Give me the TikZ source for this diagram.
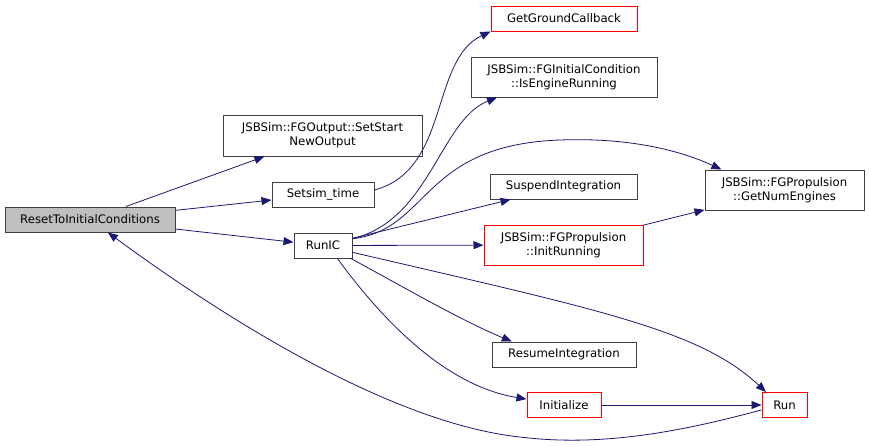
\documentclass[tikz,border=0pt]{standalone}
\usepackage{fontspec}
\setmainfont{DejaVu Sans}
\usepackage{tikz}
\usetikzlibrary{arrows.meta, calc, positioning}

\definecolor{edgeblue}{HTML}{191970}
\definecolor{boxgray}{HTML}{404040}
\definecolor{callred}{HTML}{FF0000}
\definecolor{selfgray}{HTML}{BFBFBF}

\begin{document}
\begin{tikzpicture}[x=0.75pt, y=-0.75pt,
    fnbox/.style={draw=boxgray, line width=0.75pt, fill=white, inner sep=0pt, align=center,
        font=\fontsize{8.8}{10.5}\selectfont, minimum height=18.75pt},
    fnred/.style={fnbox, draw=callred},
    call/.style={draw=edgeblue, line width=0.6pt, -{Triangle[length=7.5pt, width=6pt]}}]
    \useasboundingbox (0,0) rectangle (869,447);

    % Caller
    \node[fnbox, fill=selfgray, minimum width=127.5pt] (reset) at (90,219.5) {ResetToInitialConditions};

    % Direct callees
    \node[fnbox, minimum width=149.25pt, minimum height=30.75pt] (setstart) at (322.5,135.5) {JSBSim::FGOutput::SetStart\\NewOutput};
    \node[fnbox, minimum width=76.5pt] (setsim) at (323,194.5) {Setsim\_time};
    \node[fnbox, minimum width=43.5pt] (runic) at (323,245.5) {RunIC};

    % Second level
    \node[fnred, minimum width=109.5pt] (ground) at (564,18.5) {GetGroundCallback};
    \node[fnbox, minimum width=139.5pt, minimum height=30pt] (isengine) at (564,77) {JSBSim::FGInitialCondition\\::IsEngineRunning};
    \node[fnbox, minimum width=110.25pt] (suspend) at (563.5,186.5) {SuspendIntegration};
    \node[fnred, minimum width=119.25pt, minimum height=30pt] (initrun) at (563.5,245) {JSBSim::FGPropulsion\\::InitRunning};
    \node[fnbox, minimum width=108pt] (resume) at (564,354.5) {ResumeIntegration};
    \node[fnred, minimum width=55.5pt] (initialize) at (564,405) {Initialize};

    % Third level
    \node[fnbox, minimum width=119.25pt, minimum height=30pt] (numeng) at (784.5,190) {JSBSim::FGPropulsion\\::GetNumEngines};
    \node[fnred, minimum width=33.75pt] (run) at (784.5,405) {Run};

    % Calls from ResetToInitialConditions
    \draw[call] (reset) -- (setstart);
    \draw[call] (reset) -- (setsim);
    \draw[call] (reset) -- (runic);
    \draw[call] (setsim.5) .. controls (450,170) and (430,60) .. (ground.south west);

    % Calls from RunIC
    \draw[call] (runic.13) .. controls (430,220) and (440,120) .. (isengine.197);
    \draw[call] (runic.13) .. controls (430,230) and (420,145) .. (560,140)
        .. controls (640,137) and (690,155) .. (numeng.162);
    \draw[call] (runic) -- (suspend);
    \draw[call] (runic) -- (initrun);
    \draw[call] (runic.-25) .. controls (400,285) and (460,320) .. (resume.166);
    \draw[call] (runic.-42) .. controls (375,310) and (440,385) .. (initialize.171);
    \draw[call] (runic.-13) .. controls (600,310) and (700,330) .. (run.145);
    \draw[call] (initrun) -- (numeng);
    \draw[call] (initialize) -- (run);

    % Back to the caller
    \draw[call] (run.192) .. controls (680,432) and (600,447) .. (520,437)
        .. controls (380,422) and (200,300) .. (reset.-36);
\end{tikzpicture}
\end{document}
